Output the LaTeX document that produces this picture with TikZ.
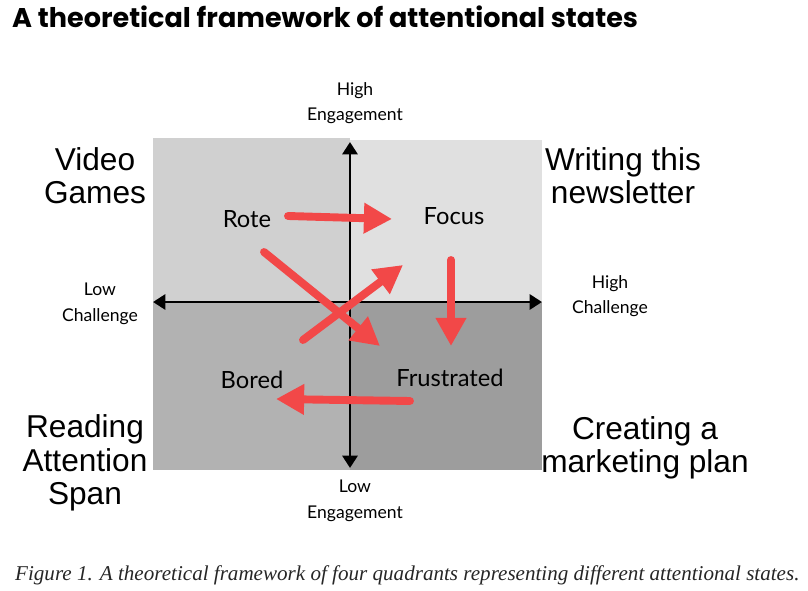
\documentclass[tikz,border=0pt]{standalone}
\usepackage{fontspec}
\setmainfont{Liberation Serif}
\newfontfamily\titlefont{Poppins}
\newfontfamily\statefont{Lato}
\newfontfamily\cornerfont{Liberation Sans}
\usetikzlibrary{arrows.meta}
\definecolor{quadTL}{RGB}{208,208,208}
\definecolor{quadTR}{RGB}{224,224,224}
\definecolor{quadBL}{RGB}{178,178,178}
\definecolor{quadBR}{RGB}{157,157,157}
\definecolor{arrowred}{RGB}{242,72,72}
\tikzset{
  axis/.style={line width=1.7pt,{Triangle[length=7pt,width=8.5pt]}-{Triangle[length=7pt,width=8.5pt]}},
  move/.style={arrowred,line width=4.5pt,line cap=round,-{Triangle[length=16pt,width=16.5pt]}},
  statelabel/.style={font=\statefont\fontsize{13.5}{16}\selectfont},
  axislabel/.style={font=\statefont\fontsize{10}{14.5}\selectfont,align=center},
  cornerlabel/.style={font=\cornerfont\fontsize{18}{19}\selectfont,align=center}
}
\begin{document}
\begin{tikzpicture}[x=0.02cm,y=-0.02cm]
  \useasboundingbox (0,0) rectangle (808,591);

  % Titolo
  \node[anchor=west,font=\titlefont\bfseries\fontsize{15.4}{18}\selectfont] (title) at (6,17)
    {A theoretical framework of attentional states};

  % Quadranti
  \fill[quadTL] (153,138) rectangle (350,302);
  \fill[quadTR] (350,140) rectangle (542,302);
  \fill[quadBL] (153,302) rectangle (350,470);
  \fill[quadBR] (350,302) rectangle (542,470);

  % Assi
  \coordinate (top) at (350,142);
  \coordinate (bottom) at (350,468);
  \coordinate (left) at (153,302);
  \coordinate (right) at (542,302);
  \draw[axis] (bottom) -- (top);
  \draw[axis] (left) -- (right);

  % Etichette degli assi
  \node[axislabel] (highEng) at (355,103) {High\\Engagement};
  \node[axislabel] (lowEng) at (355,501) {Low\\Engagement};
  \node[axislabel] (lowChal) at (100,304) {Low\\Challenge};
  \node[axislabel] (highChal) at (610,296) {High\\Challenge};

  % Stati
  \node[statelabel] (rote) at (247,219) {Rote};
  \node[statelabel] (focus) at (454,216) {Focus};
  \node[statelabel] (bored) at (252,380) {Bored};
  \node[statelabel] (frustrated) at (450,378) {Frustrated};

  % Esempi
  \node[cornerlabel] (videogames) at (95,176) {Video\\Games};
  \node[cornerlabel] (writing) at (623,176) {Writing this\\newsletter};
  \node[cornerlabel] (reading) at (85,463) {Reading\\Attention\\Span};
  \node[cornerlabel] (creating) at (645,448) {Creating a\\marketing plan};

  % Frecce tra gli stati
  \coordinate (roteA) at (288,216);
  \coordinate (focusA) at (392,219);
  \coordinate (roteB) at (264,252);
  \coordinate (frustB) at (380,346);
  \coordinate (boredC) at (303,340);
  \coordinate (focusC) at (403,265);
  \coordinate (focusD) at (451,260);
  \coordinate (frustD) at (451,346);
  \coordinate (frustE) at (410,401);
  \coordinate (boredE) at (276,399);
  \draw[move] (roteA) -- (focusA);
  \draw[move] (roteB) -- (frustB);
  \draw[move] (boredC) -- (focusC);
  \draw[move] (focusD) -- (frustD);
  \draw[move] (frustE) -- (boredE);

  % Didascalia
  \node[anchor=west,font=\itshape\fontsize{12}{14}\selectfont,text=black!85] (caption) at (9,575)
    {Figure 1. A theoretical framework of four quadrants representing different attentional states.};
\end{tikzpicture}
\end{document}
